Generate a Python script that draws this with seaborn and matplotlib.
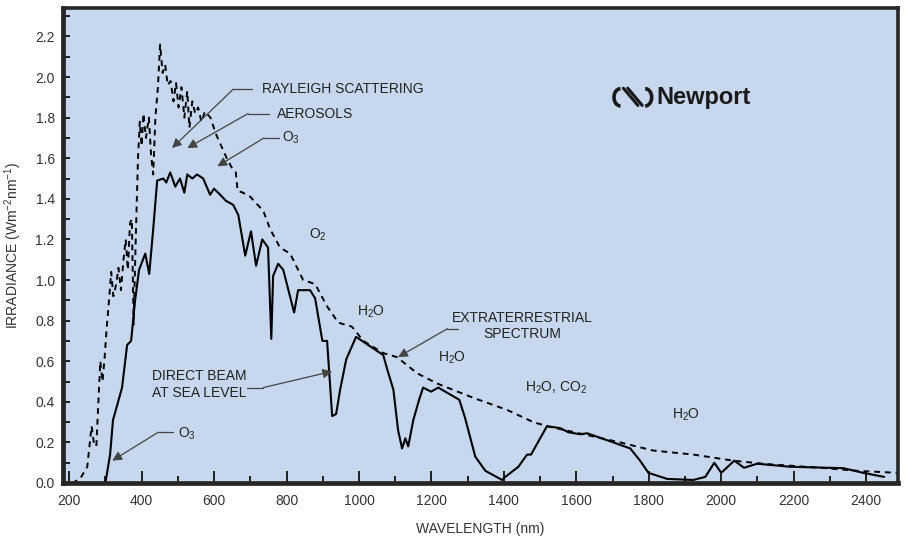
import numpy as np
import pandas as pd
import matplotlib
matplotlib.use("Agg")
import matplotlib.pyplot as plt
from matplotlib.patches import Arc
from matplotlib.ticker import MultipleLocator
import seaborn as sns

# Extraterrestrial spectrum (dashed)
ext_wl = [208, 230, 250, 262, 268, 275, 282, 286, 292, 298, 303, 310, 316, 322,
          330, 336, 343, 350, 356, 362, 368, 373, 378, 383, 390, 395, 400, 405,
          412, 420, 426, 432, 438, 445, 451, 458, 465, 472, 480, 488, 495, 502,
          510, 518, 526, 532, 540, 548, 556, 565, 575, 590, 605, 620, 635, 650,
          660, 665, 680, 700, 736, 755, 782, 810, 846, 879, 912, 943, 981, 1012,
          1067, 1105, 1161, 1216, 1315, 1409, 1481, 1519, 1721, 1812, 1923,
          2033, 2127, 2282, 2376, 2486]
ext_irr = [0.0, 0.02, 0.08, 0.28, 0.2, 0.18, 0.45, 0.6, 0.5, 0.62, 0.75, 0.9,
           1.04, 0.92, 0.98, 1.06, 0.95, 1.1, 1.2, 1.05, 1.28, 1.3, 0.78, 1.15,
           1.6, 1.78, 1.66, 1.82, 1.7, 1.8, 1.62, 1.52, 1.8, 1.95, 2.16, 2.02,
           2.06, 1.96, 1.98, 1.88, 1.97, 1.85, 1.95, 1.8, 1.93, 1.75, 1.88, 1.82,
           1.85, 1.78, 1.83, 1.8, 1.72, 1.66, 1.6, 1.55, 1.53, 1.44, 1.43, 1.41,
           1.34, 1.25, 1.16, 1.13, 1.0, 0.98, 0.87, 0.79, 0.77, 0.70, 0.64,
           0.62, 0.54, 0.49, 0.42, 0.36, 0.30, 0.28, 0.20, 0.16, 0.14, 0.11,
           0.093, 0.074, 0.06, 0.05]

# Direct beam at sea level (solid)
sea_wl = [300, 313, 321, 332, 346, 360, 371, 382, 393, 410, 421, 432, 443, 460,
          468, 479, 493, 506, 518, 526, 540, 553, 570, 589, 600, 617, 633, 653,
          667, 686, 702, 716, 733, 749, 758, 763, 777, 791, 821, 832, 865, 879,
          899, 912, 926, 937, 948, 965, 992, 1067, 1078, 1095, 1108, 1119, 1128,
          1136, 1150, 1166, 1177, 1199, 1219, 1277, 1293, 1321, 1349, 1395,
          1404, 1440, 1464, 1475, 1519, 1556, 1578, 1611, 1630, 1702, 1749,
          1776, 1799, 1851, 1923, 1956, 1981, 2000, 2036, 2063, 2099, 2190,
          2337, 2392, 2450]
sea_irr = [0.0, 0.14, 0.31, 0.38, 0.47, 0.68, 0.70, 0.90, 1.05, 1.13, 1.03,
           1.25, 1.49, 1.50, 1.48, 1.53, 1.46, 1.50, 1.43, 1.52, 1.50, 1.52,
           1.50, 1.42, 1.45, 1.42, 1.39, 1.37, 1.32, 1.12, 1.24, 1.07, 1.20,
           1.16, 0.71, 1.02, 1.08, 1.05, 0.84, 0.95, 0.95, 0.91, 0.70, 0.70,
           0.33, 0.34, 0.46, 0.61, 0.72, 0.63, 0.56, 0.46, 0.26, 0.17, 0.22,
           0.18, 0.31, 0.41, 0.47, 0.45, 0.47, 0.41, 0.32, 0.13, 0.06, 0.015,
           0.03, 0.08, 0.14, 0.14, 0.28, 0.27, 0.25, 0.24, 0.245, 0.20, 0.17,
           0.11, 0.05, 0.02, 0.015, 0.03, 0.10, 0.05, 0.11, 0.075, 0.095, 0.08,
           0.073, 0.05, 0.03]

x_ticks = [200, 400, 600, 800, 1000, 1200, 1400, 1600, 1800, 2000, 2200, 2400]
y_ticks = [0.0, 0.2, 0.4, 0.6, 0.8, 1.0, 1.2, 1.4, 1.6, 1.8, 2.0, 2.2]

ext_df = pd.DataFrame({"wl": ext_wl, "irr": ext_irr})
sea_df = pd.DataFrame({"wl": sea_wl, "irr": sea_irr})

sns.set_style("ticks")
plt.rcParams["font.family"] = ["Liberation Sans", "DejaVu Sans"]
plt.rcParams["mathtext.fontset"] = "custom"
plt.rcParams["mathtext.rm"] = "Liberation Sans"
plt.rcParams["mathtext.it"] = "Liberation Sans"

fig = plt.figure(figsize=(9.08, 5.41), dpi=100)
ax = fig.add_axes([63 / 908, 58 / 541, 835 / 908, 475 / 541])
ax.set_facecolor("#c6d7ee")

sns.lineplot(data=ext_df, x="wl", y="irr", ax=ax, color="black",
             linewidth=1.4, linestyle=(0, (3, 2.5)), sort=False)
sns.lineplot(data=sea_df, x="wl", y="irr", ax=ax, color="black",
             linewidth=1.5, sort=False)

ax.set_xlim(183, 2488)
ax.set_ylim(0, 2.34)
ax.set_xticks(x_ticks)
ax.set_yticks(y_ticks)
ax.set_yticklabels([f"{v:.1f}" for v in y_ticks])
ax.xaxis.set_minor_locator(MultipleLocator(100))
ax.yaxis.set_minor_locator(MultipleLocator(0.1))
ax.tick_params(axis="both", which="both", direction="in", color="black",
               labelcolor="#333333", labelsize=10)
ax.tick_params(axis="x", which="major", length=9, width=1.2, pad=8)
ax.tick_params(axis="x", which="minor", length=5, width=1.2)
ax.tick_params(axis="y", which="both", length=5, width=1.2, pad=6)

for side in ["left", "bottom"]:
    ax.spines[side].set_linewidth(3.4)
for side in ["top", "right"]:
    ax.spines[side].set_linewidth(2.6)
    ax.spines[side].set_visible(True)

ax.set_xlabel("WAVELENGTH (nm)", fontsize=10, color="#333333", labelpad=10)
ax.set_ylabel(r"IRRADIANCE (Wm$^{-2}$nm$^{-1}$)", fontsize=10,
              color="#333333", labelpad=8)

txt = dict(fontsize=10, color="#222222")
arrow = dict(arrowstyle="-|>", color="#444444", lw=0.9,
             mutation_scale=14, shrinkA=0, shrinkB=0)

# callouts with a horizontal leader then a diagonal arrow
def callout(label, start, knee, tip, text_xy, ha="left"):
    ax.plot([start[0], knee[0]], [start[1], knee[1]], color="#444444", lw=0.9)
    ax.annotate("", xy=tip, xytext=knee, arrowprops=arrow)
    ax.text(text_xy[0], text_xy[1], label, ha=ha, va="center", **txt)

callout("RAYLEIGH SCATTERING", (705, 1.94), (653, 1.94), (484, 1.65), (733, 1.94))
callout("AEROSOLS", (752, 1.82), (694, 1.82), (526, 1.65), (775, 1.82))
callout("O$_3$", (778, 1.70), (738, 1.70), (609, 1.56), (787, 1.70))
callout("EXTRATERRESTRIAL\nSPECTRUM", (1274, 0.76), (1244, 0.76),
        (1108, 0.62), (1451, 0.775), ha="center")
callout("DIRECT BEAM\nAT SEA LEVEL", (691, 0.47), (736, 0.47),
        (926, 0.55), (429, 0.485))
callout("O$_3$", (487, 0.25), (446, 0.25), (319, 0.11), (500, 0.24))

ax.text(887, 1.225, "O$_2$", ha="center", va="center", **txt)
ax.text(1034, 0.845, "H$_2$O", ha="center", va="center", **txt)
ax.text(1257, 0.615, "H$_2$O", ha="center", va="center", **txt)
ax.text(1545, 0.47, "H$_2$O, CO$_2$", ha="center", va="center", **txt)
ax.text(1903, 0.335, "H$_2$O", ha="center", va="center", **txt)

# Newport logo
ax.text(1822, 1.90, "Newport", ha="left", va="center", fontsize=17,
        fontweight="bold", color="#1a1a1a")
ax.add_patch(Arc((1722, 1.90), 36, 0.085, theta1=70, theta2=290,
                 lw=2.6, color="#1a1a1a"))
ax.add_patch(Arc((1790, 1.90), 36, 0.085, theta1=-110, theta2=110,
                 lw=2.6, color="#1a1a1a"))
ax.plot([1730, 1770], [1.945, 1.86], color="#1a1a1a", lw=2.2)
ax.plot([1742, 1782], [1.945, 1.86], color="#1a1a1a", lw=2.2)

fig.savefig("out.png", dpi=100, facecolor="white")
